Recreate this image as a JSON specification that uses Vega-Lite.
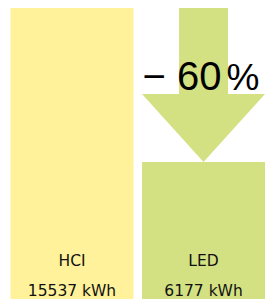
{
  "$schema": "https://vega.github.io/schema/vega-lite/v6.json",
  "width": 265,
  "height": 299,
  "autosize": "none",
  "padding": 0,
  "background": "white",
  "config": {"view": {"stroke": null}},
  "datasets": {
    "bars": [
      {"label": "HCI", "kWh": 15537, "value": "15537 kWh", "color": "#FFF29A"},
      {"label": "LED", "kWh": 6177, "value": "6177 kWh", "color": "#D4E183"}
    ],
    "arrow": [
      {"label": "LED", "from": 15537, "to": 6177, "mid": 10857, "change": "− 60", "unit": "%"}
    ]
  },
  "encoding": {
    "x": {
      "field": "label",
      "type": "nominal",
      "sort": ["HCI", "LED"],
      "axis": null,
      "scale": {"paddingInner": 0.065, "paddingOuter": 0.04, "align": 1}
    }
  },
  "layer": [
    {
      "data": {"name": "bars"},
      "mark": {"type": "bar"},
      "encoding": {
        "y": {"field": "kWh", "type": "quantitative", "axis": null, "scale": {"domain": [-2150, 16023], "zero": false, "nice": false}},
        "y2": {"datum": -2150},
        "color": {"field": "color", "type": "nominal", "scale": null, "legend": null}
      }
    },
    {
      "data": {"name": "arrow"},
      "mark": {
        "type": "point",
        "filled": true,
        "opacity": 1,
        "color": "#D4E183",
        "strokeWidth": 0,
        "size": 23716,
        "shape": "M-0.318,-1 L0.318,-1 L0.318,0.117 L0.799,0.117 L0,1 L-0.799,0.117 L-0.318,0.117 Z"
      },
      "encoding": {
        "y": {"field": "mid", "type": "quantitative"}
      }
    },
    {
      "data": {"name": "arrow"},
      "mark": {"type": "text", "font": "Liberation Sans", "fontSize": 40, "align": "right", "baseline": "alphabetic", "dx": 18, "dy": 5, "color": "black"},
      "encoding": {
        "y": {"field": "mid", "type": "quantitative"},
        "text": {"field": "change"}
      }
    },
    {
      "data": {"name": "arrow"},
      "mark": {"type": "text", "font": "Liberation Sans", "fontSize": 37, "align": "left", "baseline": "alphabetic", "dx": 23, "dy": 5, "color": "black"},
      "encoding": {
        "y": {"field": "mid", "type": "quantitative"},
        "text": {"field": "unit"}
      }
    },
    {
      "data": {"name": "bars"},
      "mark": {"type": "text", "font": "DejaVu Sans", "fontSize": 15.5, "align": "center", "baseline": "alphabetic", "dy": -33, "color": "#111111"},
      "encoding": {
        "y": {"datum": -2150},
        "text": {"field": "label"}
      }
    },
    {
      "data": {"name": "bars"},
      "mark": {"type": "text", "font": "DejaVu Sans", "fontSize": 15.5, "align": "center", "baseline": "alphabetic", "dy": -3, "color": "#111111"},
      "encoding": {
        "y": {"datum": -2150},
        "text": {"field": "value"}
      }
    }
  ]
}
